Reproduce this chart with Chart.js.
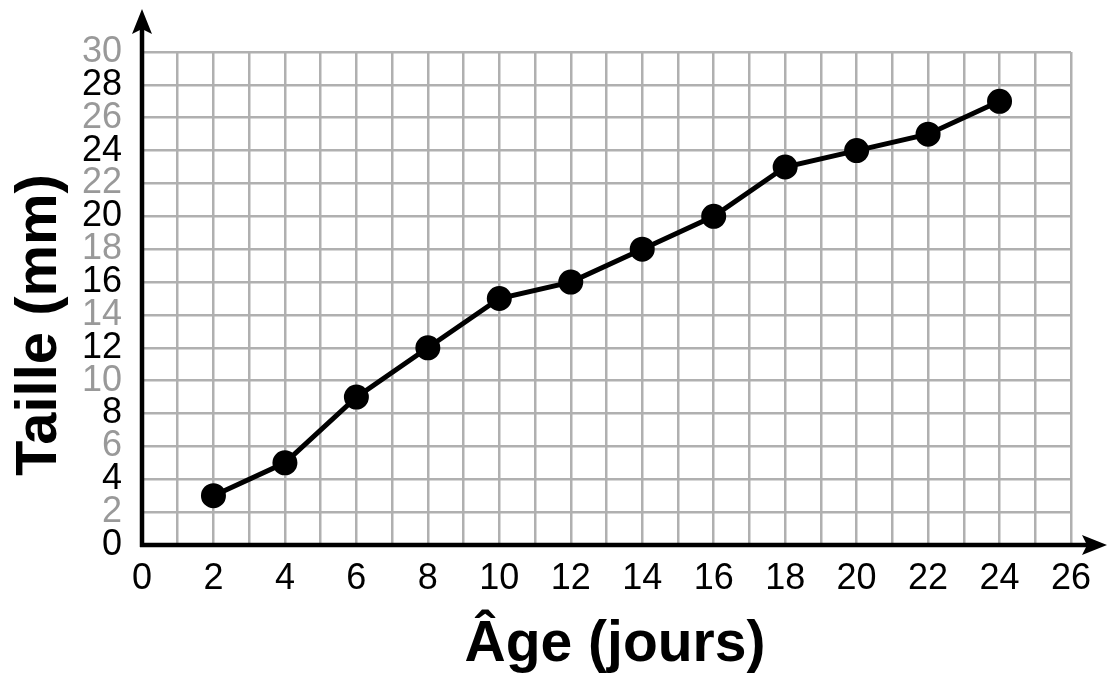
<!DOCTYPE html>
<html>
<head>
<meta charset="utf-8">
<script src="https://cdn.jsdelivr.net/npm/chart.js@4"></script>
<style>
  html, body { margin: 0; padding: 0; background: #fff; }
  #wrap { width: 1108px; height: 679px; }
</style>
</head>
<body>
<div id="wrap"><canvas id="myChart"></canvas></div>
<script>
const ages = [2, 4, 6, 8, 10, 12, 14, 16, 18, 20, 22, 24];
const tailles = [3, 5, 9, 12, 15, 16, 18, 20, 23, 24, 25, 27];
const xTitle = 'Âge (jours)';
const yTitle = 'Taille (mm)';

const FONT = '"Liberation Sans", Arial, sans-serif';

// axes with arrows + axis titles
const axesPlugin = {
    id: 'axes',
    afterDraw(chart) {
        const ctx = chart.ctx;
        const x0 = chart.scales.x.getPixelForValue(0);
        const y0 = chart.scales.y.getPixelForValue(0);
        ctx.save();
        ctx.strokeStyle = '#000';
        ctx.fillStyle = '#000';
        ctx.lineWidth = 4.5;
        ctx.beginPath();
        ctx.moveTo(x0, y0 + 2);
        ctx.lineTo(x0, 25);
        ctx.moveTo(x0 - 2, y0);
        ctx.lineTo(1095, y0);
        ctx.stroke();
        // arrowheads
        ctx.beginPath();
        ctx.moveTo(x0, 9);
        ctx.lineTo(x0 - 10, 34);
        ctx.lineTo(x0, 29);
        ctx.lineTo(x0 + 10, 34);
        ctx.closePath();
        ctx.fill();
        ctx.beginPath();
        ctx.moveTo(1107, y0);
        ctx.lineTo(1082, y0 - 10);
        ctx.lineTo(1087, y0);
        ctx.lineTo(1082, y0 + 10);
        ctx.closePath();
        ctx.fill();
        // titles
        ctx.font = 'bold 57px ' + FONT;
        ctx.textAlign = 'center';
        ctx.textBaseline = 'middle';
        ctx.fillText(xTitle, 615, 645);
        ctx.font = 'bold 58px ' + FONT;
        ctx.translate(40, 325);
        ctx.rotate(-Math.PI / 2);
        ctx.fillText(yTitle, 0, 0);
        ctx.restore();
    }
};

const data = {
    datasets: [
        {
            label: yTitle,
            data: ages.map((a, i) => ({ x: a, y: tailles[i] })),
            borderColor: '#000',
            backgroundColor: '#000',
            borderWidth: 5,
            pointRadius: 10,
            pointHoverRadius: 10,
            tension: 0,
        },
    ]
};

const config = {
    type: 'line',
    data: data,
    options: {
        responsive: true,
        maintainAspectRatio: false,
        animation: false,
        layout: { padding: { top: 52, right: 37, left: 0, bottom: 0 } },
        plugins: {
            legend: { display: false },
            tooltip: { enabled: false },
        },
        scales: {
            x: {
                type: 'linear',
                min: 0,
                max: 26,
                afterFit(scale) { scale.height = 134; },
                border: { display: false },
                grid: { color: '#b0b0b0', lineWidth: 2.5, drawTicks: false },
                ticks: {
                    stepSize: 1,
                    autoSkip: false,
                    maxRotation: 0,
                    padding: 12,
                    color: '#000',
                    font: { family: FONT, size: 36 },
                    callback: (v) => (v % 2 === 0 ? String(v) : ''),
                },
            },
            y: {
                min: 0,
                max: 30,
                afterFit(scale) { scale.width = 142; },
                border: { display: false },
                grid: { color: '#b0b0b0', lineWidth: 2.5, drawTicks: false },
                ticks: {
                    stepSize: 2,
                    autoSkip: false,
                    padding: 20,
                    font: { family: FONT, size: 36 },
                    color: (c) => (c.tick.value % 4 === 2 ? '#999' : '#000'),
                },
            },
        },
    },
    plugins: [axesPlugin],
};

const myChart = new Chart(document.getElementById('myChart'), config);
</script>
</body>
</html>
